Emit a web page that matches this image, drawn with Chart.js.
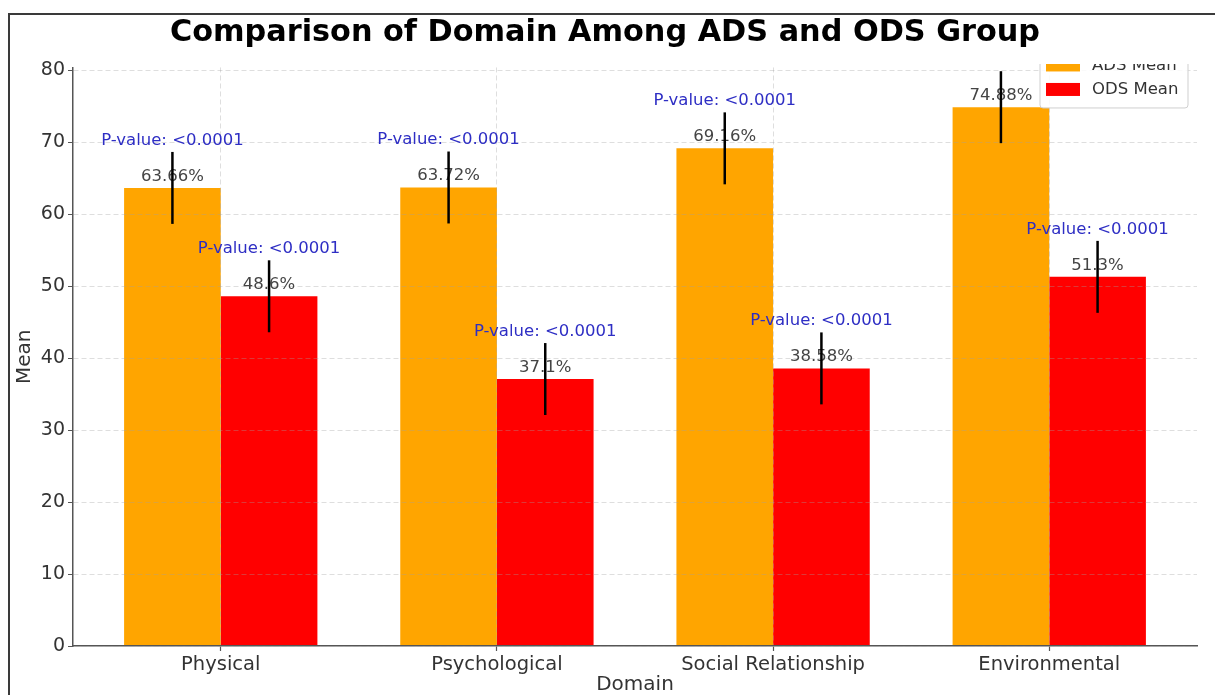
<!DOCTYPE html>
<html>
<head>
<meta charset="utf-8">
<title>Comparison of Domain Among ADS and ODS Group</title>
<script src="https://cdn.jsdelivr.net/npm/chart.js@4.4.0/dist/chart.umd.min.js"></script>
<style>
  html, body { margin: 0; padding: 0; background: #fff; overflow: hidden; }
  #wrap { position: relative; width: 1215px; height: 695px; overflow: hidden; }
  #frame {
    position: absolute; left: 8px; top: 13px; width: 1300px; height: 800px;
    border-top: 2px solid #3a3a3a; border-left: 2px solid #3a3a3a;
    pointer-events: none;
  }
</style>
</head>
<body>
<div id="wrap">
  <canvas id="domainChart"></canvas>
  <div id="frame"></div>
</div>
<script>
// ===== DATA =====
const categories = ["Physical", "Psychological", "Social Relationship", "Environmental"];
const adsMean = [63.66, 63.72, 69.16, 74.88];
const odsMean = [48.6, 37.1, 38.58, 51.3];
const adsError = [5, 5, 5, 5];
const odsError = [5, 5, 5, 5];
const adsPValue = ["<0.0001", "<0.0001", "<0.0001", "<0.0001"];
const odsPValue = ["<0.0001", "<0.0001", "<0.0001", "<0.0001"];
const yTicks = [0, 10, 20, 30, 40, 50, 60, 70, 80];

const FONT = "'DejaVu Sans', 'Liberation Sans', sans-serif";
// the top strip of the original picture is covered by the title band
const cropTop = 64;

// value labels, p-values, error bars and the legend box
const barExtras = {
  id: "barExtras",
  afterDraw(chart) {
    const ctx = chart.ctx;
    const yScale = chart.scales.y;
    const area = chart.chartArea;

    ctx.save();
    ctx.beginPath();
    ctx.rect(0, cropTop, chart.width, chart.height - cropTop);
    ctx.clip();

    chart.data.datasets.forEach((ds, di) => {
      const meta = chart.getDatasetMeta(di);
      meta.data.forEach((bar, i) => {
        const v = ds.data[i].y;
        ctx.textAlign = "center";
        ctx.textBaseline = "alphabetic";
        ctx.font = "16.5px " + FONT;
        ctx.fillStyle = "#444";
        ctx.fillText(v + "%", bar.x, yScale.getPixelForValue(v + 1));
        ctx.fillStyle = "#2e2ec4";
        ctx.fillText("P-value: " + ds.pValues[i], bar.x, yScale.getPixelForValue(v + 6));

        ctx.strokeStyle = "#000";
        ctx.lineWidth = 2.5;
        ctx.beginPath();
        ctx.moveTo(bar.x, yScale.getPixelForValue(v - ds.errors[i]));
        ctx.lineTo(bar.x, yScale.getPixelForValue(v + ds.errors[i]));
        ctx.stroke();
      });
    });

    // legend (top right, inside the plot)
    const lw = 148, rowH = 23;
    const lx = area.right - 9 - lw;
    const ly = area.top - 19;
    ctx.beginPath();
    ctx.roundRect(lx, ly, lw, 59.5, 3);
    ctx.fillStyle = "rgba(255,255,255,0.85)";
    ctx.fill();
    ctx.strokeStyle = "#cfcfcf";
    ctx.lineWidth = 1;
    ctx.stroke();
    chart.data.datasets.forEach((ds, di) => {
      const cy = ly + 17 + di * (rowH + 1.5);
      ctx.fillStyle = ds.backgroundColor;
      ctx.fillRect(lx + 6, cy - 7, 34, 13);
      ctx.fillStyle = "#333";
      ctx.font = "16.5px " + FONT;
      ctx.textAlign = "left";
      ctx.textBaseline = "middle";
      ctx.fillText(ds.label, lx + 52, cy);
    });

    ctx.restore();
  }
};

const gridStyle = {
  color: "rgba(160,160,160,0.35)",
  lineWidth: 1,
  tickColor: "#555",
  tickLength: 5,
  tickWidth: 1.2,
  tickBorderDash: [1, 0]
};

const ctx = document.getElementById("domainChart").getContext("2d");
new Chart(ctx, {
  type: "bar",
  data: {
    datasets: [
      {
        label: "ADS Mean",
        data: categories.map((c, i) => ({ x: i, y: adsMean[i] })),
        backgroundColor: "#FFA500",
        errors: adsError,
        pValues: adsPValue
      },
      {
        label: "ODS Mean",
        data: categories.map((c, i) => ({ x: i, y: odsMean[i] })),
        backgroundColor: "#FF0000",
        errors: odsError,
        pValues: odsPValue
      }
    ]
  },
  options: {
    responsive: true,
    maintainAspectRatio: false,
    animation: false,
    events: [],
    layout: { padding: { left: 13, right: 18, top: 0, bottom: 0 } },
    datasets: { bar: { categoryPercentage: 0.7, barPercentage: 1.0 } },
    plugins: {
      legend: { display: false },
      tooltip: { enabled: false },
      title: {
        display: true,
        text: "Comparison of Domain Among ADS and ODS Group",
        color: "#000",
        font: { family: FONT, size: 30.3, weight: "bold", lineHeight: 1.2 },
        padding: { top: 15, bottom: 16.1 }
      }
    },
    scales: {
      x: {
        type: "linear",
        min: -0.535,
        max: 3.535,
        offset: false,
        afterBuildTicks: (scale) => {
          scale.ticks = categories.map((c, i) => ({ value: i }));
        },
        afterFit: (scale) => { scale.height = 49; },
        ticks: {
          color: "#333",
          padding: 2,
          font: { family: FONT, size: 19.5 },
          callback: (v) => categories[v] ?? ""
        },
        grid: Object.assign({ offset: false, z: 1 }, gridStyle),
        border: { display: true, color: "#555", width: 1.5, dash: [5, 3], z: 1 },
        title: {
          display: true,
          text: "Domain",
          color: "#333",
          font: { family: FONT, size: 20, lineHeight: 1 },
          padding: { top: 0, bottom: 0 }
        }
      },
      y: {
        min: 0,
        max: 80.4,
        afterBuildTicks: (scale) => {
          scale.ticks = yTicks.map((v) => ({ value: v }));
        },
        afterFit: (scale) => { scale.width = 60; },
        ticks: {
          color: "#333",
          padding: 3,
          font: { family: FONT, size: 19 }
        },
        grid: Object.assign({ z: 1 }, gridStyle),
        border: { display: true, color: "#555", width: 1.5, dash: [5, 3], z: 1 },
        title: {
          display: true,
          text: "Mean",
          color: "#333",
          font: { family: FONT, size: 20, lineHeight: 1 },
          padding: { top: 2, bottom: 0 }
        }
      }
    }
  },
  plugins: [barExtras]
});
</script>
</body>
</html>
